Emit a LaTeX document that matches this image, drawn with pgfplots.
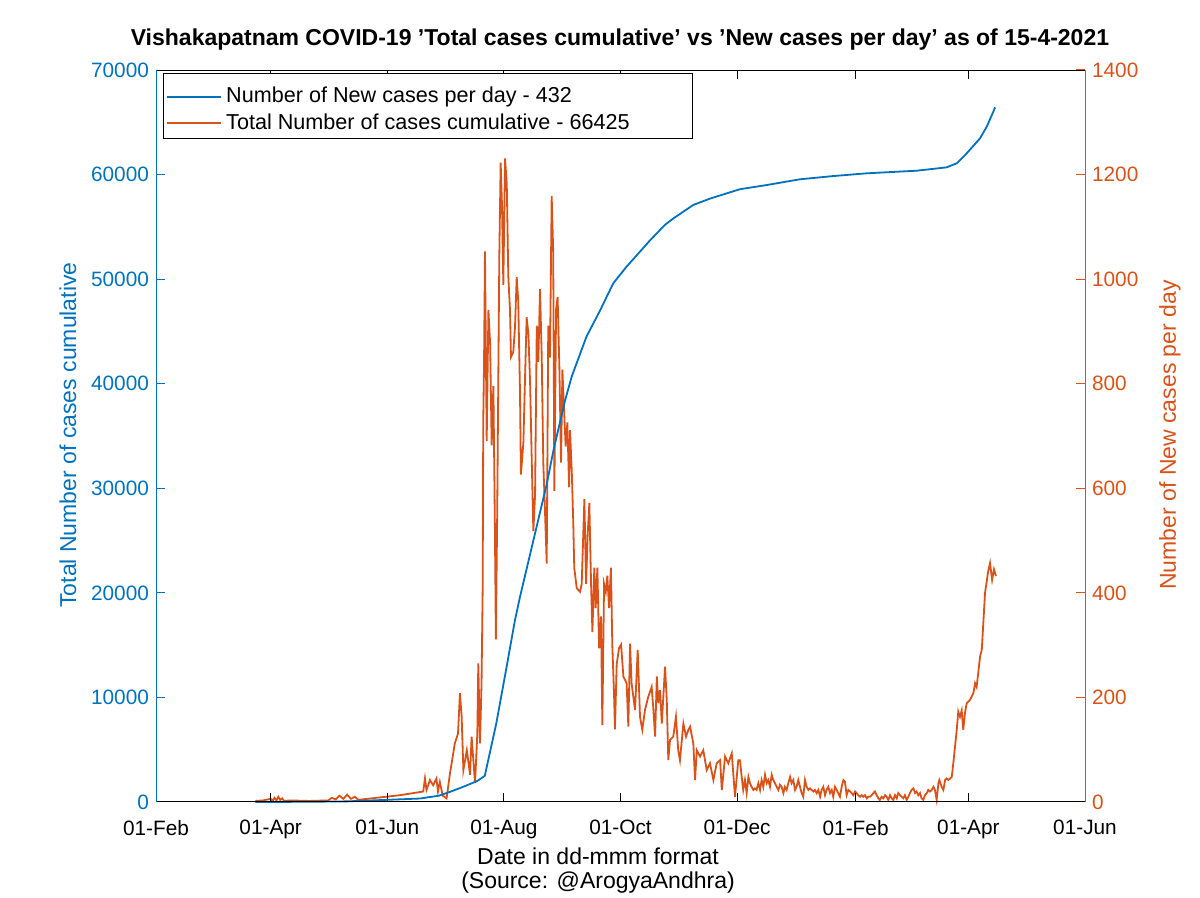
\documentclass[border=0pt]{standalone}
\usepackage{fontspec}
\setmainfont{Liberation Sans}
\usepackage{pgfplots}
\pgfplotsset{compat=1.18}
\definecolor{mblue}{rgb}{0,0.447,0.741}
\definecolor{morange}{rgb}{0.85,0.325,0.098}
\newcommand{\tf}{\fontsize{10.4}{12}\selectfont}
\newcommand{\lf}{\fontsize{10.8}{12.5}\selectfont}
\newcommand{\af}{\fontsize{11.5}{13}\selectfont}
\begin{document}
\begin{tikzpicture}
\useasboundingbox (0,0) rectangle (600pt,449pt);
\pgfplotsset{
  base/.style={at={(78pt,48pt)}, anchor=south west, width=464.5pt, height=366pt, scale only axis,
    xmin=0, xmax=486, ymin=0, axis line style={draw=none}, tick align=inside, major tick length=4.5pt,
    ticklabel style={font=\tf}, /pgf/number format/assume math mode=true, /pgf/number format/1000 sep={},
    clip=false, scaled y ticks=false}
}
\begin{axis}[base, ymax=1400, ytick={0,200,...,1400}, ytick pos=right, yticklabel pos=right, xtick=\empty,
  y tick style={morange, line width=0.5pt}, yticklabel style={morange}]
\addplot[morange, line width=0.9pt] coordinates {
(52,2)(56,3)(60,6)(61,2)(62,8)(63,3)(64,10)(65,4)(66,7)(67,2)(70,3)(80,2)(90,3)(92,8)(94,5)(96,12)(98,6)(100,14)(102,6)(104,10)(106,4)(108,5)(127.6,13)(139.8,20)(140.7,45)(141.5,23)(143.3,42)(145,32)(146.7,45)(147.5,20)(148.5,38)(150,12)(152,7)(153.8,55)(155.5,93)(156.3,112)(158,131)(159,208)(159.9,163)(160.8,61)(162.6,99)(164.3,52)(165.1,125)(166.9,36)(168.1,131)(168.6,265)(169.5,112)(170.3,227)(170.9,408)(171.2,730)(171.6,836)(172.1,1053)(173.0,690)(173.9,941)(174.8,876)(175.6,682)(176.5,796)(177.3,521)(177.8,311)(178.5,553)(179.0,779)(179.6,1045)(180.3,1223)(181.0,1142)(181.7,989)(182.6,1231)(183.5,1182)(184.3,1005)(185.2,940)(185.7,851)(186.9,860)(187.8,908)(188.7,1004)(189.5,958)(190.4,788)(190.9,626)(192.2,688)(193.0,803)(193.9,927)(194.8,896)(195.7,803)(196.5,664)(197.4,518)(198.3,587)(199.2,911)(200.0,842)(200.9,981)(201.8,850)(202.6,649)(203.5,556)(204.4,456)(205.2,911)(206.1,850)(207.0,1159)(207.8,1051)(208.4,595)(209.3,942)(210.1,966)(211.0,834)(211.9,649)(212.6,827)(213.4,757)(214.3,680)(215.2,726)(216.1,602)(216.6,711)(217.5,633)(218.3,533)(218.8,448)(220.1,409)(221.8,402)(222.7,417)(223.5,510)(224.1,579)(225.0,417)(225.8,510)(226.7,572)(227.6,417)(228.3,325)(229.3,448)(230.0,371)(230.9,448)(231.8,294)(232.8,355)(233.5,147)(234.4,417)(235.3,402)(236.1,433)(237.0,371)(238.0,448)(238.7,301)(239.6,208)(240.1,139)(241.0,263)(242.2,294)(243.3,301)(244.5,240)(246.2,227)(247.1,144)(248.0,303)(248.8,227)(250.6,176)(252.0,291)(253.2,163)(254.4,138)(255.8,176)(257.5,201)(259.3,220)(260.1,182)(261.1,125)(262.0,240)(262.8,189)(263.7,214)(264.6,150)(266.3,259)(267.2,195)(268.0,80)(268.9,119)(270.6,125)(272.0,163)(273.2,99)(274.1,80)(275.9,150)(277.3,125)(278.5,138)(279.4,144)(281.1,112)(282.0,42)(282.9,99)(284.6,87)(286.3,99)(288.1,61)(289.8,74)(291.6,42)(293.3,74)(295.1,80)(296.0,23)(297.7,87)(299.4,74)(301.2,93)(302.9,10)(304.6,80)
(305.5,80)(306.4,48)(307.2,23)(308.1,42)(309.0,17)(309.9,48)(310.7,36)(311.6,29)(312.5,23)(313.3,26)(314.2,23)(315.1,36)(316.0,23)(316.8,42)(317.7,29)(318.6,52)(319.5,36)(320.3,42)(321.2,29)(322.1,52)(322.9,42)(323.8,36)(324.7,29)(325.6,23)(326.4,33)(327.3,29)(328.2,17)(329.0,29)(329.9,23)(330.8,36)(331.7,48)(332.5,36)(333.4,42)(334.3,23)(335.1,29)(336.0,42)(336.9,29)(337.8,17)(338.6,10)(339.5,42)(340.4,29)(341.3,23)(342.1,26)(343.0,23)(343.9,20)(344.7,23)(345.6,17)(346.5,23)(347.4,10)(348.2,23)(349.1,29)(350.0,13)(350.8,23)(351.7,29)(352.6,17)(353.5,23)(354.3,10)(355.2,29)(356.1,23)(356.9,17)(357.8,10)(358.7,29)(359.6,42)(360.4,39)(361.3,13)(362.2,23)(363.1,20)(363.9,17)(364.8,13)(365.7,20)(366.5,17)(367.4,13)(368.3,10)(369.2,13)(370.0,10)(370.9,13)(371.8,7)(372.6,10)(373.5,10)(374.4,13)(375.3,17)(376.1,20)(377.0,13)(377.9,7)(378.7,4)(379.6,10)(380.5,7)(381.4,13)(382.2,10)(383.1,4)(384.0,13)(384.9,7)(385.7,4)(386.6,13)(387.5,7)(388.3,17)(389.2,13)(390.1,10)(391.0,7)(391.8,13)(392.7,4)(393.6,10)(394.4,17)(395.3,23)(396.2,26)(397.1,17)(397.9,20)(398.8,13)(399.7,17)(400.5,7)(401.4,4)(402.3,13)(403.2,17)(404.0,23)(404.9,20)(405.8,23)(406.7,29)(407.5,23)(408.4,4)(409.3,36)(409.8,42)(411.0,29)(411.9,23)(412.8,42)(413.6,45)(414.5,42)(415.4,45)(416.3,48)(417.1,74)
(418.9,138)(419.7,173)(420.6,163)(421.5,175)(422.3,138)(423.2,170)(424.1,189)(425.8,195)(427.6,208)(428.5,227)(429.3,220)(431.1,278)(432.0,291)(433.7,400)(435.3,440)(436.3,457)(437.4,425)(438.4,445)(439.4,432)
};
\end{axis}
\begin{axis}[base, ymax=70000, ytick={0,10000,...,70000}, ytick pos=left,
  xtick={0,60,121,182,243,304,366,425,486},
  xticklabels={01-Feb,01-Apr,01-Jun,01-Aug,01-Oct,01-Dec,01-Feb,01-Apr,01-Jun},
  xtick pos=both, xticklabel pos=left, xticklabel style={yshift=-5.5pt},
  x tick style={black, line width=0.5pt}, y tick style={mblue, line width=0.5pt}, yticklabel style={mblue},
  legend style={at={(rel axis cs:0.0108,0.9454)}, anchor=west, draw=none, fill=none, font=\lf, inner sep=0pt, row sep=0pt},
  legend cell align=left,
  legend image code/.code={\draw[#1] (0pt,0pt) -- (27pt,0pt);}]
\draw[black, line width=0.5pt, fill=white] (rel axis cs:0.00754,0.9071) rectangle (rel axis cs:0.5770,0.9959);
\addplot[mblue, line width=0.9pt] coordinates {
(52,0)(80,20)(100,60)(120,200)(138,330)(148,600)(155,1050)(160,1400)(168,2000)(172,2500)(178,7500)(183.5,13000)(187.8,17400)(190.4,19600)(197.4,25000)(204.4,30400)(208,33700)(214,38400)(217.5,40700)(225.2,44500)(232.3,47000)(239.2,49600)(246.2,51200)(258.4,53700)(266.3,55200)(270.6,55800)(281.1,57100)(289.8,57700)(305.5,58600)(319.5,59000)(336.9,59550)(354.4,59860)(371.8,60120)(398,60370)(413.6,60690)(418.9,61080)(424.1,62030)(431.1,63470)(434.6,64580)(439,66425)
};
\addlegendentry{Number of New cases per day - 432}
\addlegendimage{morange, line width=0.9pt}
\addlegendentry{Total Number of cases cumulative - 66425}
\draw[black, line width=0.5pt] (rel axis cs:0,0) -- (rel axis cs:1,0);
\draw[black, line width=0.5pt] (rel axis cs:0,1) -- (rel axis cs:1,1);
\draw[mblue, line width=0.5pt] (rel axis cs:0,0) -- (rel axis cs:0,1);
\draw[morange, line width=0.5pt] (rel axis cs:1,0) -- (rel axis cs:1,1);
\end{axis}
\node[font=\fontsize{11.5}{13}\selectfont\bfseries] at (310pt,429pt) {Vishakapatnam COVID-19 'Total cases cumulative' vs 'New cases per day' as of 15-4-2021};
\node[font=\af] at (299pt,21pt) {Date in dd-mmm format};
\node[font=\af] at (299pt,7.5pt) {(Source: @ArogyaAndhra)};
\node[font=\af, text=mblue, rotate=90] at (34pt,231.5pt) {Total Number of cases cumulative};
\node[font=\af, text=morange, rotate=90] at (585pt,231.5pt) {Number of New cases per day};
\end{tikzpicture}
\end{document}
